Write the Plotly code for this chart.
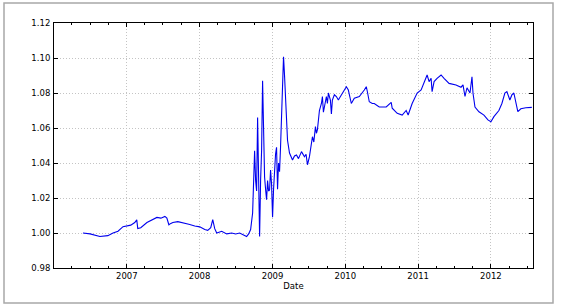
import plotly.graph_objects as go

dates = [
    "2006-05-26", "2006-07-01", "2006-08-19", "2006-09-28", "2006-10-24", "2006-11-18",
    "2006-12-13", "2007-01-01", "2007-01-21", "2007-02-10", "2007-02-20", "2007-02-25",
    "2007-03-12", "2007-04-12", "2007-05-07", "2007-06-01", "2007-06-21", "2007-07-11",
    "2007-07-21", "2007-07-31", "2007-08-10", "2007-08-20", "2007-09-14", "2007-10-09",
    "2007-11-08", "2007-12-08", "2008-01-02", "2008-01-27", "2008-02-11", "2008-02-26",
    "2008-03-07", "2008-03-17", "2008-03-27", "2008-04-21", "2008-05-16", "2008-06-10",
    "2008-06-30", "2008-07-20", "2008-08-09", "2008-08-24", "2008-09-03", "2008-09-13",
    "2008-09-23", "2008-10-03", "2008-10-08", "2008-10-13", "2008-10-18", "2008-10-23",
    "2008-10-28", "2008-11-02", "2008-11-07", "2008-11-12", "2008-11-17", "2008-11-22",
    "2008-11-27", "2008-12-02", "2008-12-07", "2008-12-12", "2008-12-17", "2008-12-22",
    "2008-12-27", "2009-01-01", "2009-01-06", "2009-01-11", "2009-01-16", "2009-01-21",
    "2009-01-26", "2009-01-31", "2009-02-05", "2009-02-10", "2009-02-15", "2009-02-20",
    "2009-02-25", "2009-03-02", "2009-03-07", "2009-03-12", "2009-03-17", "2009-03-27",
    "2009-04-11", "2009-04-21", "2009-05-01", "2009-05-11", "2009-05-26", "2009-06-10",
    "2009-06-18", "2009-06-25", "2009-07-05",
    "2009-07-20", "2009-07-27", "2009-08-04", "2009-08-09", "2009-08-14", "2009-08-19",
    "2009-08-24", "2009-09-03", "2009-09-08",
    "2009-09-13", "2009-09-18", "2009-09-23", "2009-09-28", "2009-10-03", "2009-10-08",
    "2009-10-18", "2009-10-23", "2009-10-28", "2009-11-07", "2009-11-17", "2009-11-27",
    "2009-12-02", "2009-12-17", "2010-01-06", "2010-01-16", "2010-01-31", "2010-02-15",
    "2010-03-12", "2010-04-06", "2010-04-16", "2010-04-21", "2010-05-01", "2010-05-16",
    "2010-05-26", "2010-06-20", "2010-07-25", "2010-08-19", "2010-08-24", "2010-09-18",
    "2010-10-13", "2010-11-02", "2010-11-12", "2010-12-02", "2010-12-27", "2011-01-16",
    "2011-01-31", "2011-02-15", "2011-02-25", "2011-03-07", "2011-03-12", "2011-03-22",
    "2011-04-06", "2011-04-26", "2011-05-11", "2011-05-26", "2011-06-05", "2011-07-10",
    "2011-08-04", "2011-08-14", "2011-08-24", "2011-09-03", "2011-09-18", "2011-09-28",
    "2011-10-03", "2011-10-13", "2011-11-02", "2011-11-27", "2011-12-17", "2012-01-01",
    "2012-01-16", "2012-02-10", "2012-02-25", "2012-03-11", "2012-03-21", "2012-04-05",
    "2012-04-15", "2012-04-25", "2012-05-05", "2012-05-15", "2012-05-30", "2012-06-24",
    "2012-07-24",
]

values = [
    1.0000, 0.9995, 0.9980, 0.9985, 1.0000, 1.0010,
    1.0036, 1.0040, 1.0045, 1.0060, 1.0075, 1.0025,
    1.0030, 1.0060, 1.0075, 1.0089, 1.0085, 1.0095,
    1.0085, 1.0047, 1.0055, 1.0060, 1.0065, 1.0060,
    1.0050, 1.0040, 1.0035, 1.0020, 1.0015, 1.0030,
    1.0077, 1.0025, 1.0000, 1.0010, 0.9995, 1.0000,
    0.9994, 1.0000, 0.9990, 0.9980, 0.9995, 1.0020,
    1.0114, 1.0470, 1.0300, 1.0240, 1.0660, 1.0300,
    0.9980, 1.0300, 1.0470, 1.0870, 1.0500, 1.0320,
    1.0250, 1.0190, 1.0300, 1.0240, 1.0246, 1.0360,
    1.0280, 1.0090, 1.0250, 1.0380, 1.0450, 1.0490,
    1.0250, 1.0400, 1.0350, 1.0490, 1.0700, 1.0857,
    1.1007, 1.0900, 1.0760, 1.0620, 1.0530, 1.0457,
    1.0417, 1.0440, 1.0446, 1.0425, 1.0465, 1.0436,
    1.0450, 1.0390, 1.0436,
    1.0550, 1.0520, 1.0608, 1.0570, 1.0590, 1.0650,
    1.0700, 1.0740, 1.0780,
    1.0690, 1.0720, 1.0770, 1.0780, 1.0740, 1.0800,
    1.0760, 1.0680, 1.0760, 1.0790, 1.0780, 1.0760,
    1.0770, 1.0800, 1.0836, 1.0817, 1.0740, 1.0770,
    1.0780, 1.0817, 1.0836, 1.0810, 1.0750, 1.0740,
    1.0740, 1.0720, 1.0720, 1.0746, 1.0713, 1.0684,
    1.0674, 1.0700, 1.0674, 1.0740, 1.0800, 1.0817,
    1.0865, 1.0903, 1.0865, 1.0884, 1.0808, 1.0865,
    1.0884, 1.0903, 1.0884, 1.0865, 1.0855, 1.0846,
    1.0833, 1.0846, 1.0780, 1.0830, 1.0800, 1.0893,
    1.0800, 1.0720, 1.0693, 1.0674, 1.0646, 1.0636,
    1.0665, 1.0700, 1.0740, 1.0800, 1.0808, 1.0760,
    1.0789, 1.0800, 1.0740, 1.0693, 1.0710, 1.0716,
    1.0718,
]

x_range = ["2006-01-01", "2012-07-30"]
x_tick_values = ["2007-01-01", "2008-01-01", "2009-01-01", "2010-01-01", "2011-01-01", "2012-01-01"]
x_tick_labels = ["2007", "2008", "2009", "2010", "2011", "2012"]
y_range = [0.98, 1.12]
y_tick_values = [0.98, 1.00, 1.02, 1.04, 1.06, 1.08, 1.10, 1.12]
y_tick_labels = ["0.98", "1.00", "1.02", "1.04", "1.06", "1.08", "1.10", "1.12"]
x_title = "Date"

fig = go.Figure()
fig.add_trace(go.Scatter(
    x=dates, y=values, mode="lines",
    line=dict(color="#0000ee", width=1.1),
    showlegend=False, hoverinfo="skip",
))

font = dict(family="DejaVu Sans", size=8.5, color="#000000")

fig.update_layout(
    width=566, height=306,
    margin=dict(l=54, r=33, t=23, b=38),
    paper_bgcolor="white", plot_bgcolor="white",
    font=font,
    xaxis=dict(
        type="date", range=x_range,
        tickvals=x_tick_values, ticktext=x_tick_labels,
        ticks="inside", ticklen=4, tickwidth=1, tickcolor="#000000",
        showline=True, linecolor="#000000", linewidth=1, mirror="allticks",
        showgrid=True, gridcolor="#c4c4c4", griddash="1px,2px", gridwidth=1,
        minor=dict(dtick="M3", tick0="2006-01-01", ticks="inside", ticklen=2,
                   tickcolor="#000000", showgrid=False),
        title=dict(text=x_title, standoff=1, font=font),
        zeroline=False, ticklabelstandoff=0,
    ),
    yaxis=dict(
        range=y_range, tickvals=y_tick_values, ticktext=y_tick_labels,
        ticks="inside", ticklen=4, tickwidth=1, tickcolor="#000000",
        showline=True, linecolor="#000000", linewidth=1, mirror="allticks",
        showgrid=True, gridcolor="#c4c4c4", griddash="1px,2px", gridwidth=1,
        zeroline=False, ticklabelstandoff=1,
    ),
    shapes=[dict(
        type="rect", xref="paper", yref="paper",
        x0=(4 - 54) / 479, x1=(553 - 54) / 479,
        y0=(268 - 303) / 245, y1=(268 - 3) / 245,
        line=dict(color="#a8a8a8", width=1.5), fillcolor="rgba(0,0,0,0)",
        layer="below",
    )],
)

fig.write_html("out.html")
